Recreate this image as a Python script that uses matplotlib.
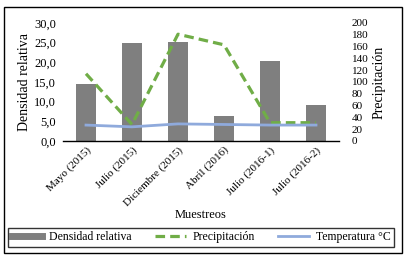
import matplotlib
matplotlib.use("Agg")
import matplotlib.pyplot as plt
from matplotlib.patches import Rectangle
from matplotlib.lines import Line2D

categories = ["Mayo (2015)", "Julio (2015)", "Diciembre (2015)", "Abril (2016)",
              "Julio (2016-1)", "Julio (2016-2)"]
densidad = [14.6, 25.0, 25.2, 6.4, 20.3, 9.2]
precipitacion = [114, 28, 181, 163, 31, 31]
temperatura = [27, 24, 29, 28, 27, 27]

plt.rcParams['font.family'] = ['Liberation Serif', 'DejaVu Serif']

W, H = 407, 258
fig = plt.figure(figsize=(W / 100, H / 100), dpi=100)

def fx(px):
    return px / W

def fy(py):
    return 1 - py / H

ax = fig.add_axes([fx(63), fy(141), fx(339 - 63), (141 - 23) / H])
x = list(range(len(categories)))
ax.bar(x, densidad, width=0.43, color='#7f7f7f', zorder=2)
ax.set_xlim(-0.5, len(categories) - 0.5)
ax.set_ylim(0, 30)
ax.set_yticks([0, 5, 10, 15, 20, 25, 30])
ax.set_yticklabels([f"{v:.1f}".replace('.', ',') for v in [0, 5, 10, 15, 20, 25, 30]])
for s in ['top', 'left', 'right']:
    ax.spines[s].set_visible(False)
ax.spines['bottom'].set_linewidth(1.0)
ax.tick_params(axis='y', length=0, labelsize=9, pad=5)
ax.tick_params(axis='x', length=0, labelsize=8, pad=3)
ax.set_xticks(x)
ax.set_xticklabels(categories, rotation=45, ha='right', rotation_mode='anchor')
ax.set_ylabel("Densidad relativa", fontsize=10, labelpad=2)
ax.set_xlabel("Muestreos", fontsize=9, labelpad=1)

ax2 = ax.twinx()
ax2.plot(x, precipitacion, color='#70ad47', lw=2.3, ls=(0, (3, 1.6)), zorder=3)
ax2.plot(x, temperatura, color='#8faadc', lw=2.0, zorder=3)
ax2.set_ylim(0, 200)
ax2.set_yticks(range(0, 201, 20))
for s in ['top', 'left', 'right', 'bottom']:
    ax2.spines[s].set_visible(False)
ax2.tick_params(axis='y', length=0, labelsize=8, pad=9)
ax2.set_ylabel("Precipitación", fontsize=10, labelpad=3)

# outer border
fig.patches.append(Rectangle((fx(4), fy(253)), fx(402 - 4), (253 - 7) / H,
                             transform=fig.transFigure, fill=False,
                             edgecolor='black', lw=1.0))

handles = [Line2D([], [], color='#7f7f7f', lw=5),
           Line2D([], [], color='#70ad47', lw=2.3, ls=(0, (3, 1.6))),
           Line2D([], [], color='#8faadc', lw=2.0)]
labels = ["Densidad relativa", "Precipitación", "Temperatura °C"]
leg = fig.legend(handles, labels, ncol=3, loc='lower left', mode='expand',
                 bbox_to_anchor=(fx(8), fy(247), fx(394 - 8), 19 / H), fontsize=8.5,
                 frameon=True, fancybox=False, edgecolor='black',
                 handlelength=2.6, handletextpad=0.6,
                 borderpad=0.3, borderaxespad=0)
leg.get_frame().set_linewidth(1.0)

fig.savefig("out.png", dpi=100)
